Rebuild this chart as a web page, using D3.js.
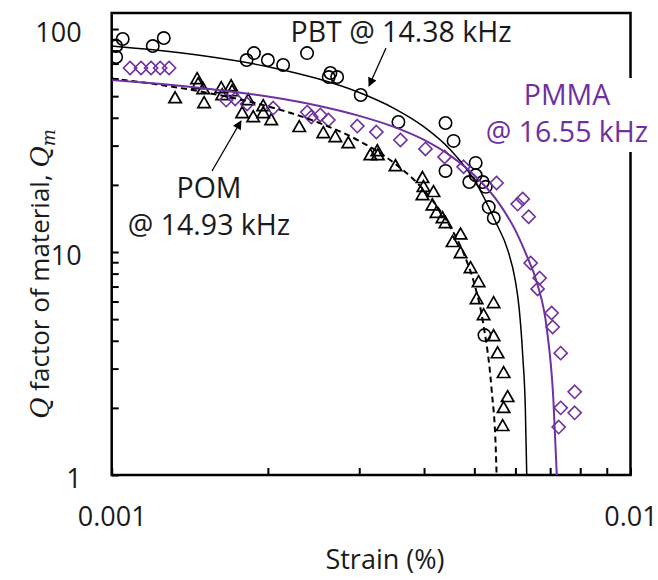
<!DOCTYPE html>
<html><head><meta charset="utf-8">
<script src="https://cdn.jsdelivr.net/npm/d3@7"></script>
<style>
body{margin:0;background:#fff}
text{font-family:'Open Sans',sans-serif}
</style>
</head><body><svg id="c" width="658" height="580"></svg>
<script>
// ---------- data ----------
const pbtStrain = [0.00105,0.00102,0.00102,0.00120,0.00126,0.00182,0.00188,0.00200,0.00214,0.00238,0.00264,0.00272,0.00262,0.00302,0.00357,0.00440,0.00456,0.00440,0.00503,0.00489,0.00503,0.00519,0.00526,0.00533,0.00545,0.00523];
const pbtQ      = [90.2,83.9,74.9,83.9,91.1,72.6,78.0,72.6,69.0,78.0,63.5,60.9,60.9,50.6,38.3,37.9,31.5,23.1,25.1,20.6,22.1,20.6,19.6,15.9,14.2,4.24];

const pmmaStrain = [0.001085,0.001139,0.001191,0.001240,0.001290,0.001662,0.001730,0.001824,0.002048,0.002382,0.002425,0.002524,0.002616,0.002975,0.003237,0.003602,0.004025,0.004381,0.004767,0.005519,0.006060,0.006197,0.006364,0.006420,0.006682,0.006622,0.007046,0.007079,0.007335,0.007805,0.007335,0.007805,0.007271];
const pmmaQ      = [66.9,66.9,66.9,66.9,66.9,48.0,48.6,46.1,44.2,42.4,40.3,41.2,39.1,36.7,34.5,31.8,29.0,26.7,24.1,20.4,16.4,17.3,14.4,8.93,7.64,6.83,5.33,4.61,3.52,2.36,2.00,1.90,1.64];

const pomStrain = [0.001325,0.001461,0.001468,0.001501,0.001507,0.001626,0.001699,0.001706,0.001633,0.001784,0.001833,0.001874,0.001959,0.001959,0.002030,0.002299,0.002558,0.002698,0.002858,0.003152,0.003251,0.003258,0.003524,0.003972,0.003990,0.004171,0.003972,0.004152,0.004227,0.004341,0.004400,0.004540,0.004704,0.004704,0.004917,0.005095,0.005050,0.005446,0.005210,0.005446,0.005544,0.005694,0.005796,0.005694,0.005669];
const pomQ      = [49.0,59.7,56.7,53.8,46.6,54.4,55.5,52.7,50.6,42.0,48.0,40.3,45.2,42.0,39.1,36.4,34.2,32.8,30.8,27.2,28.4,27.2,24.3,21.5,19.6,18.6,18.0,16.2,15.0,14.2,13.5,11.1,12.0,9.9,8.48,7.34,6.16,5.91,5.22,4.20,3.52,2.87,2.24,2.00,1.66];

const pbtFitStrain = [0.001,0.0012,0.0015,0.002,0.0025,0.003,0.0035,0.004,0.0045,0.005,0.0055,0.0058,0.006,0.0061,0.0062,0.00627,0.00631];
const pbtFitQ      = [84,80.7,75.8,67.8,59.8,51.9,44.1,36.4,28.7,21.0,13.6,10.2,7.4,5.6,3.4,2.0,1.0];
const pmmaFitStrain = [0.001,0.0012,0.0015,0.002,0.0025,0.003,0.0035,0.004,0.0045,0.005,0.0055,0.006,0.0063,0.0066,0.0069,0.0071,0.00721];
const pmmaFitQ      = [59,57.1,54.3,49.8,45.3,40.8,36.4,31.8,27.0,22.1,17.3,12.5,9.7,7.3,4.5,2.2,1.0];
const pomFitStrain = [0.001,0.0012,0.0015,0.002,0.0025,0.003,0.0035,0.004,0.0045,0.0048,0.005,0.0052,0.0054,0.0055,0.00552];
const pomFitQ      = [60,56.8,52.2,45.0,38.1,31.5,25.1,18.9,12.9,9.5,7.2,4.8,2.4,1.3,1.0];

const xTickValues = [0.001,0.002,0.003,0.004,0.005,0.006,0.007,0.008,0.009,0.01];
const xTickLabels = ["0.001","0.01"];
const yTickValues = [1,2,3,4,5,6,7,8,9,10,20,30,40,50,60,70,80,90,100];
const yTickLabels = ["1","10","100"];

// ---------- chart ----------
const PURPLE = "#7030A0";
const svg = d3.select("#c");
const L = 111.7, R = 630.5, T = 13, B = 475;
const x = d3.scaleLog().domain([0.001, 0.01]).range([L, R]);
const y = d3.scaleLog().domain([1, 118]).range([B, T]);

const defs = svg.append("defs");
defs.append("clipPath").attr("id","clip").append("rect")
  .attr("x",L).attr("y",T).attr("width",R-L).attr("height",B-T);
defs.append("marker").attr("id","ah").attr("viewBox","0 0 10 10")
  .attr("refX",9).attr("refY",5).attr("markerWidth",12).attr("markerHeight",9)
  .attr("markerUnits","userSpaceOnUse").attr("orient","auto")
  .append("path").attr("d","M0,0 L10,5 L0,10 Z").attr("fill","#000");

// axes ticks (inward)
const fmtX = d => xTickLabels.includes(String(d)) ? String(d) : "";
const fmtY = d => yTickLabels.includes(String(d)) ? String(d) : "";
const gx = svg.append("g").attr("transform",`translate(0,${B})`)
  .call(d3.axisBottom(x).tickValues(xTickValues).tickFormat(fmtX).tickSizeInner(-7).tickSizeOuter(0).tickPadding(32));
const gy = svg.append("g").attr("transform",`translate(${L},0)`)
  .call(d3.axisLeft(y).tickValues(yTickValues).tickFormat(fmtY).tickSizeInner(-7).tickSizeOuter(0).tickPadding(30));
[gx,gy].forEach(g=>{
  g.select(".domain").remove();
  g.selectAll(".tick line").attr("stroke","#000").attr("stroke-width",2);
  g.selectAll(".tick text").attr("font-size",27).attr("fill","#1a1a1a").attr("font-family","'Open Sans',sans-serif");
});
gy.selectAll(".tick text").attr("dy","0.45em");

// frame
svg.append("rect").attr("x",L).attr("y",T).attr("width",R-L).attr("height",B-T)
  .attr("fill","none").attr("stroke","#000").attr("stroke-width",2.5);

const plot = svg.append("g").attr("clip-path","url(#clip)");
const line = d3.line().x(d=>x(d[0])).y(d=>y(d[1])).curve(d3.curveMonotoneX);
const zip = (a,b) => a.map((v,i)=>[v,b[i]]);

// markers
plot.append("g").selectAll("path").data(zip(pomStrain,pomQ)).join("path")
  .attr("transform",d=>`translate(${x(d[0])},${y(d[1])})`)
  .attr("d","M0,-6.3 L6.2,4.6 L-6.2,4.6 Z")
  .attr("fill","none").attr("stroke","#000").attr("stroke-width",1.7);
plot.append("g").selectAll("circle").data(zip(pbtStrain,pbtQ)).join("circle")
  .attr("cx",d=>x(d[0])).attr("cy",d=>y(d[1])).attr("r",6.2)
  .attr("fill","none").attr("stroke","#000").attr("stroke-width",1.6);
plot.append("g").selectAll("path").data(zip(pmmaStrain,pmmaQ)).join("path")
  .attr("transform",d=>`translate(${x(d[0])},${y(d[1])})`)
  .attr("d","M0,-6.6 L6.6,0 L0,6.6 L-6.6,0 Z")
  .attr("fill","none").attr("stroke",PURPLE).attr("stroke-width",1.6);

// fit curves
plot.append("path").datum(zip(pomFitStrain,pomFitQ)).attr("d",line)
  .attr("fill","none").attr("stroke","#000").attr("stroke-width",2).attr("stroke-dasharray","6,4");
plot.append("path").datum(zip(pbtFitStrain,pbtFitQ)).attr("d",line)
  .attr("fill","none").attr("stroke","#000").attr("stroke-width",1.5);
plot.append("path").datum(zip(pmmaFitStrain,pmmaFitQ)).attr("d",line)
  .attr("fill","none").attr("stroke",PURPLE).attr("stroke-width",2);

// annotations
const FS = 28.5;
svg.append("text").attr("x",401).attr("y",32).attr("dy","0.35em").attr("text-anchor","middle")
  .attr("font-size",FS).attr("fill","#1a1a1a").text("PBT @ 14.38 kHz");
svg.append("line").attr("x1",386).attr("y1",48).attr("x2",369).attr("y2",86)
  .attr("stroke","#000").attr("stroke-width",1.3).attr("marker-end","url(#ah)");

svg.append("text").attr("x",209).attr("y",188).attr("dy","0.35em").attr("text-anchor","middle")
  .attr("font-size",FS).attr("fill","#1a1a1a").text("POM");
svg.append("text").attr("x",209).attr("y",225).attr("dy","0.35em").attr("text-anchor","middle")
  .attr("font-size",FS).attr("fill","#1a1a1a").text("@ 14.93 kHz");
svg.append("line").attr("x1",212).attr("y1",171).attr("x2",241).attr("y2",121)
  .attr("stroke","#000").attr("stroke-width",1.3).attr("marker-end","url(#ah)");

svg.append("rect").attr("x",486).attr("y",78).attr("width",165).attr("height",74).attr("fill","#fff");
svg.append("text").attr("x",567).attr("y",95).attr("dy","0.35em").attr("text-anchor","middle")
  .attr("font-size",FS).attr("fill",PURPLE).text("PMMA");
svg.append("text").attr("x",567).attr("y",132).attr("dy","0.35em").attr("text-anchor","middle")
  .attr("font-size",FS).attr("fill",PURPLE).text("@ 16.55 kHz");

// axis titles
svg.append("text").attr("x",385).attr("y",560).attr("dy","0.35em").attr("text-anchor","middle")
  .attr("font-size",27).attr("fill","#1a1a1a").text("Strain (%)");
const yt = svg.append("text").attr("transform","translate(40,274) rotate(-90)")
  .attr("text-anchor","middle").attr("dy","0.35em").attr("font-size",26).attr("fill","#1a1a1a");
yt.append("tspan").attr("font-family","'DejaVu Serif',serif").attr("font-style","italic").text("Q");
yt.append("tspan").text(" factor of material, ");
yt.append("tspan").attr("font-family","'DejaVu Serif',serif").attr("font-style","italic").text("Q");
yt.append("tspan").attr("font-family","'DejaVu Serif',serif").attr("font-style","italic")
  .attr("font-size",18).attr("dy","0.3em").text("m");
</script></body></html>
